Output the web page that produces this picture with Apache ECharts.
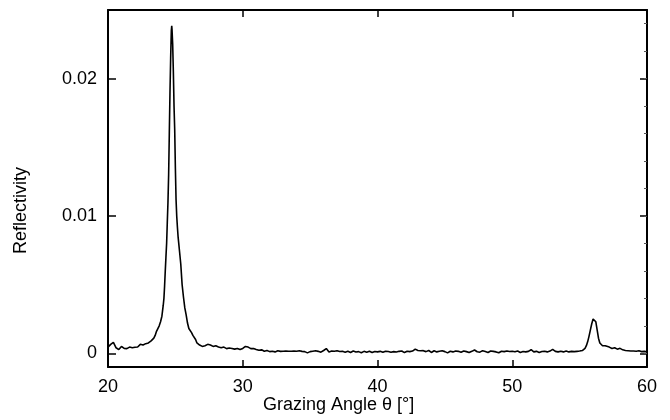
<!DOCTYPE html>
<html>
<head>
<meta charset="utf-8">
<script src="https://cdn.jsdelivr.net/npm/echarts@6/dist/echarts.min.js"></script>
<style>
  html, body { margin: 0; padding: 0; background: #fff; }
  #main { width: 670px; height: 420px; }
</style>
</head>
<body>
<div id="main"></div>
<script>
// grazing angle (deg) and reflectivity (in units of 1e-4)
var angle = [
  20.0, 20.2, 20.4, 20.6, 20.8, 21.0, 21.2, 21.4, 21.6, 21.8,
  22.0, 22.2, 22.4, 22.6, 22.8, 23.0, 23.2, 23.4, 23.5, 23.6,
  23.7, 23.8, 23.9, 24.0, 24.05, 24.1, 24.15, 24.2, 24.25, 24.3,
  24.35, 24.4, 24.45, 24.5, 24.55, 24.6, 24.65, 24.7, 24.73, 24.75,
  24.8, 24.85, 24.9, 24.95, 25.0, 25.05, 25.1, 25.15, 25.2, 25.25,
  25.3, 25.4, 25.5, 25.6, 25.7, 25.8, 25.9, 26.0, 26.1, 26.2,
  26.3, 26.4, 26.5, 26.6, 26.8, 27.0, 27.2, 27.4, 27.6, 27.8,
  28.0, 28.2, 28.4, 28.6, 28.8, 29.0, 29.2, 29.4, 29.6, 29.8,
  30.0, 30.2, 30.4, 30.6, 30.8, 31.0, 31.2, 31.4, 31.6, 31.8,
  32.0, 32.2, 32.4, 32.6, 32.8, 33.0, 33.2, 33.4, 33.6, 33.8,
  34.0, 34.2, 34.4, 34.6, 34.8, 35.0, 35.2, 35.4, 35.6, 35.8,
  36.0, 36.2, 36.4, 36.6, 36.8, 37.0, 37.2, 37.4, 37.6, 37.8,
  38.0, 38.2, 38.4, 38.6, 38.8, 39.0, 39.2, 39.4, 39.6, 39.8,
  40.0, 40.2, 40.4, 40.6, 40.8, 41.0, 41.2, 41.4, 41.6, 41.8,
  42.0, 42.2, 42.4, 42.6, 42.8, 43.0, 43.2, 43.4, 43.6, 43.8,
  44.0, 44.2, 44.4, 44.6, 44.8, 45.0, 45.2, 45.4, 45.6, 45.8,
  46.0, 46.2, 46.4, 46.6, 46.8, 47.0, 47.2, 47.4, 47.6, 47.8,
  48.0, 48.2, 48.4, 48.6, 48.8, 49.0, 49.2, 49.4, 49.6, 49.8,
  50.0, 50.2, 50.4, 50.6, 50.8, 51.0, 51.2, 51.4, 51.6, 51.8,
  52.0, 52.2, 52.4, 52.6, 52.8, 53.0, 53.2, 53.4, 53.6, 53.8,
  54.0, 54.2, 54.4, 54.6, 54.8, 55.0, 55.2, 55.3, 55.4, 55.5,
  55.6, 55.7, 55.8, 55.9, 56.0, 56.1, 56.2, 56.3, 56.4, 56.5,
  56.6, 56.7, 56.8, 56.9, 57.0, 57.2, 57.4, 57.6, 57.8, 58.0,
  58.2, 58.4, 58.6, 58.8, 59.0, 59.2, 59.4, 59.6, 59.8, 60.0
];
var refl = [
  4.5, 6.5, 8.0, 4.0, 2.7, 5.0, 3.5, 3.4, 4.5, 4.0,
  4.4, 4.6, 6.5, 6.0, 7.0, 7.5, 9.0, 11, 13, 16,
  18, 20, 23, 27, 31, 35, 40, 49, 60, 70,
  80, 95, 110, 130, 160, 190, 215, 235, 238.5, 236,
  225, 205, 180, 163, 135, 112, 100, 92, 85, 80,
  75, 65, 50, 41, 33, 28, 22, 18, 17, 15,
  13, 12, 10, 7.5, 6.0, 5.0, 5.5, 6.5, 6.0, 5.0,
  5.5, 4.6, 4.0, 4.5, 3.4, 3.8, 3.5, 3.0, 3.5, 2.7,
  3.5, 5.0, 4.5, 3.4, 3.5, 2.8, 2.2, 2.5, 1.5, 2.0,
  1.2, 1.5, 1.0, 1.8, 1.4, 1.5, 1.7, 1.5, 1.5, 1.6,
  1.5, 1.8, 1.4, 1.2, 0.3, 1.2, 1.5, 1.8, 1.4, 0.8,
  2.0, 3.4, 1.0, 1.6, 1.5, 1.8, 1.3, 1.4, 0.8, 1.5,
  0.6, 1.6, 0.9, 1.2, 0.4, 1.4, 0.8, 1.5, 0.5, 1.3,
  1.0, 1.4, 0.7, 1.5, 1.3, 0.8, 1.2, 0.9, 1.4, 1.6,
  0.5, 1.5, 1.2, 1.6, 3.0, 2.0, 1.8, 1.9, 1.2, 2.0,
  0.6, 1.8, 1.0, 1.5, 1.8, 1.2, 0.3, 1.5, 1.0, 1.6,
  1.4, 0.8, 1.7, 1.2, 0.5, 1.4, 2.4, 1.1, 0.8, 1.9,
  1.3, 0.6, 1.7, 1.4, 1.0, 0.4, 1.5, 1.2, 1.7, 1.3,
  1.5, 1.1, 1.6, 0.6, 1.3, 1.0, 1.4, 2.6, 1.0, 1.4,
  0.6, 1.3, 1.5, 1.0, 1.6, 2.8, 1.4, 1.0, 1.5, 1.0,
  1.6, 1.0, 1.4, 1.2, 1.4, 1.6, 2.0, 2.6, 3.6, 5.5,
  8.5, 12.5, 17, 21.5, 25, 26, 23, 17, 11, 7.5,
  6.5, 5.5, 6.5, 5.5, 6.5, 4.5, 3.5, 4.0, 3.0, 3.6,
  2.5, 2.0, 1.8, 1.6, 1.7, 1.5, 1.8, 1.2, 1.4, 1.0
];
var UNIT = 1e-4;
var yTicks = [0, 0.01, 0.02];
var yMinor = [0, 0.002, 0.004, 0.006, 0.008, 0.01, 0.012, 0.014, 0.016, 0.018, 0.02, 0.022, 0.024];
var xTitle = 'Grazing Angle θ [°]';
var yTitle = 'Reflectivity';

var FONT = '"Liberation Sans", Arial, sans-serif';
var myChart = echarts.init(document.getElementById('main'));

var points = angle.map(function (a, i) {
    return [a, refl[i] * UNIT];
});

var frameLine = { onZero: false, lineStyle: { color: '#000', width: 2 } };
var bigTick = { inside: true, length: 7, lineStyle: { color: '#000', width: 1.5 } };

myChart.setOption({
    animation: false,
    backgroundColor: '#fff',
    grid: { left: 108, right: 23, top: 10, bottom: 53 },
    // axis titles, placed where the original figure has them
    graphic: [
        {
            type: 'text', left: 263, top: 396,
            style: { text: xTitle, fontFamily: FONT, fontSize: 18, fill: '#000' }
        },
        {
            type: 'text', x: 12, y: 254, rotation: Math.PI / 2,
            style: { text: yTitle, fontFamily: FONT, fontSize: 18, fill: '#000' }
        }
    ],
    xAxis: [
        {
            type: 'value', min: 20, max: 60, interval: 10,
            position: 'bottom',
            axisLine: frameLine,
            axisTick: bigTick,
            axisLabel: { margin: 11, fontFamily: FONT, fontSize: 18, color: '#000' },
            splitLine: { show: false }
        },
        {
            type: 'value', min: 20, max: 60, interval: 10,
            position: 'top',
            axisLine: frameLine,
            axisTick: bigTick,
            axisLabel: { show: false },
            splitLine: { show: false }
        }
    ],
    yAxis: [
        {
            type: 'value', min: -0.001, max: 0.025,
            position: 'left',
            axisLine: frameLine,
            axisTick: { inside: true, length: 8, customValues: yTicks, lineStyle: { color: '#000', width: 1.5 } },
            axisLabel: {
                customValues: yTicks, margin: 11, fontFamily: FONT, fontSize: 18, color: '#000',
                formatter: function (v) { return v === 0 ? '0' : String(+v.toFixed(3)); }
            },
            splitLine: { show: false }
        },
        {
            type: 'value', min: -0.001, max: 0.025,
            position: 'right',
            axisLine: frameLine,
            axisTick: { inside: true, length: 7, customValues: yTicks, lineStyle: { color: '#000', width: 1.5 } },
            axisLabel: { show: false },
            splitLine: { show: false }
        },
        {
            type: 'value', min: -0.001, max: 0.025,
            position: 'right',
            axisLine: { show: false },
            axisTick: { inside: true, length: 3, customValues: yMinor, lineStyle: { color: '#555', width: 1 } },
            axisLabel: { show: false },
            splitLine: { show: false }
        }
    ],
    series: [
        {
            type: 'line',
            xAxisIndex: 0,
            yAxisIndex: 0,
            data: points,
            showSymbol: false,
            lineStyle: { color: '#000', width: 1.6 },
            silent: true
        }
    ]
});

window.addEventListener('resize', function () {
    myChart.resize();
});
</script>
</body>
</html>
